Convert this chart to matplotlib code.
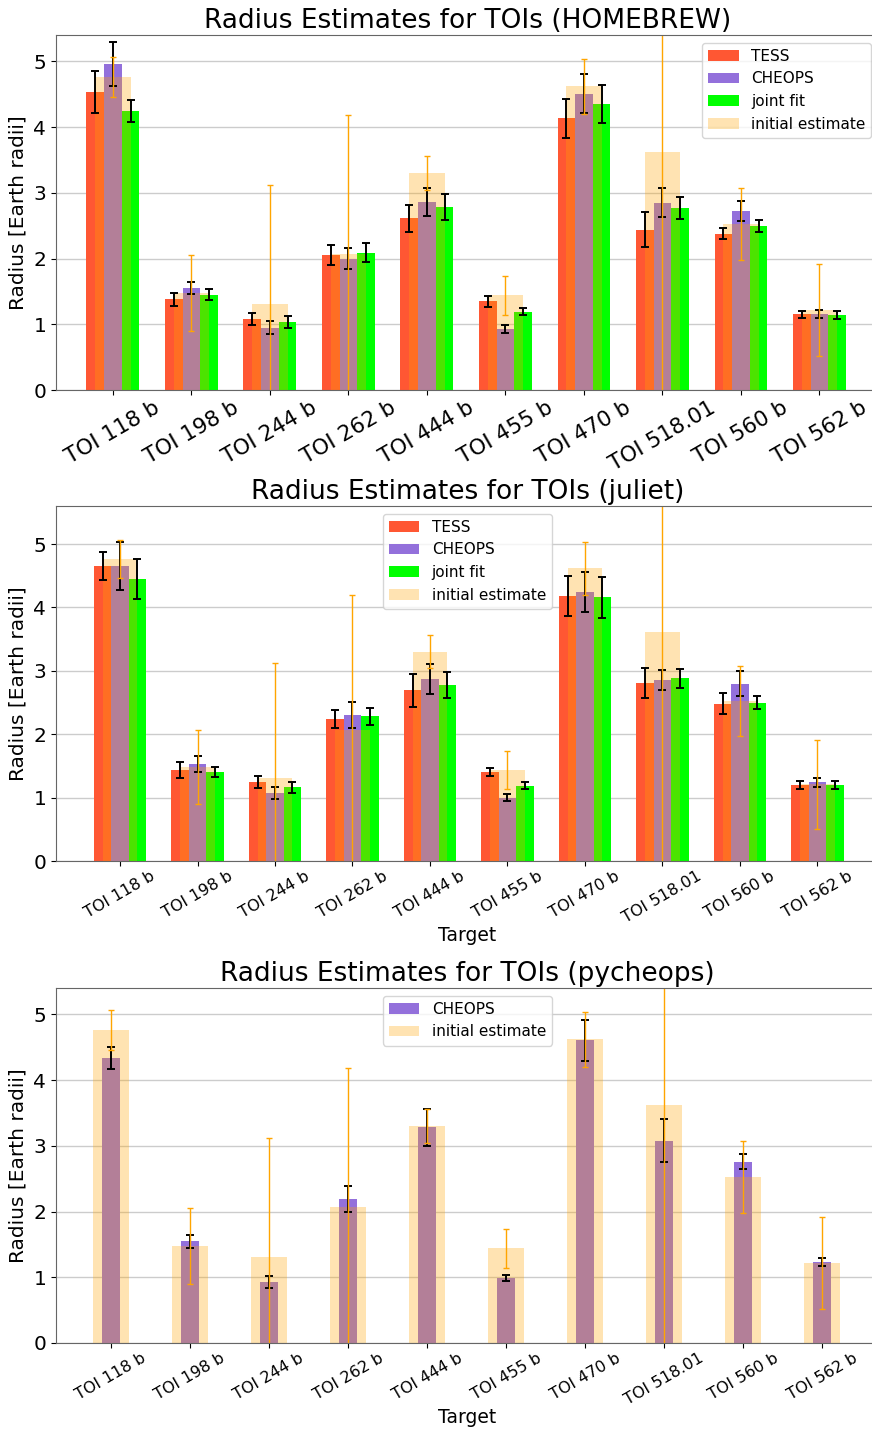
import numpy as np
import matplotlib
matplotlib.use("Agg")
import matplotlib.pyplot as plt

# targets and the initial (literature) radius estimates
targets = ['TOI 118 b', 'TOI 198 b', 'TOI 244 b', 'TOI 262 b', 'TOI 444 b',
           'TOI 455 b', 'TOI 470 b', 'TOI 518.01', 'TOI 560 b', 'TOI 562 b']
initial = [4.76, 1.48, 1.31, 2.07, 3.30, 1.44, 4.62, 3.62, 2.52, 1.21]
initial_err = [0.30, 0.58, 1.81, 2.12, 0.26, 0.30, 0.42, 3.70, 0.55, 0.70]

# HOMEBREW fits
hb_tess = [4.54, 1.38, 1.08, 2.05, 2.61, 1.35, 4.13, 2.44, 2.38, 1.15]
hb_tess_err = [0.32, 0.095, 0.085, 0.15, 0.21, 0.085, 0.30, 0.265, 0.09, 0.05]
hb_cheops = [4.96, 1.555, 0.95, 2.00, 2.86, 0.93, 4.51, 2.85, 2.72, 1.15]
hb_cheops_err = [0.33, 0.09, 0.10, 0.155, 0.22, 0.06, 0.30, 0.22, 0.15, 0.06]
hb_joint = [4.245, 1.45, 1.04, 2.09, 2.78, 1.19, 4.35, 2.77, 2.50, 1.14]
hb_joint_err = [0.165, 0.08, 0.09, 0.15, 0.20, 0.055, 0.29, 0.165, 0.09, 0.06]

# juliet fits
ju_tess = [4.66, 1.43, 1.24, 2.24, 2.69, 1.40, 4.18, 2.81, 2.48, 1.195]
ju_tess_err = [0.22, 0.125, 0.095, 0.145, 0.255, 0.065, 0.31, 0.24, 0.165, 0.06]
ju_cheops = [4.655, 1.53, 1.07, 2.305, 2.87, 1.00, 4.25, 2.86, 2.795, 1.24]
ju_cheops_err = [0.385, 0.13, 0.095, 0.205, 0.23, 0.055, 0.315, 0.16, 0.20, 0.07]
ju_joint = [4.45, 1.40, 1.16, 2.28, 2.78, 1.185, 4.16, 2.88, 2.495, 1.195]
ju_joint_err = [0.315, 0.08, 0.08, 0.13, 0.205, 0.055, 0.325, 0.155, 0.10, 0.06]

# pycheops fits (CHEOPS only)
py_cheops = [4.34, 1.55, 0.93, 2.19, 3.28, 0.99, 4.605, 3.08, 2.76, 1.23]
py_cheops_err = [0.17, 0.10, 0.09, 0.20, 0.28, 0.05, 0.31, 0.32, 0.11, 0.065]

W = 0.225
TESS_C = '#ff5733'
CHEOPS_C = 'mediumpurple'
JOINT_C = 'lime'
FIG_W, FIG_H = 872, 1431


def px_axes(fig, top, bottom, left=56, right=879):
	# right edge sits just past the figure, like the cropped original
	return fig.add_axes([left/FIG_W, 1 - bottom/FIG_H, (right-left)/FIG_W, (bottom-top)/FIG_H])


def panel(ax, name, tess=None, cheops=None, joint=None, xfont=11.5, xlabel=True, legend_loc='upper center', xlim=None, ylim=5.4):
	x = np.arange(len(targets))
	ekw = dict(capsize=3, error_kw=dict(elinewidth=1.4, capthick=1.4, ecolor='black'))
	if tess is not None:
		ax.bar(x - W, tess[0], W, yerr=tess[1], color=TESS_C, label='TESS', **ekw)
	ax.bar(x, cheops[0], W, yerr=cheops[1], color=CHEOPS_C, label='CHEOPS', **ekw)
	if joint is not None:
		ax.bar(x + W, joint[0], W, yerr=joint[1], color=JOINT_C, label='joint fit', **ekw)
	ax.bar(x, initial, 2*W, yerr=initial_err, color='orange', alpha=0.3, label='initial estimate',
		capsize=2, error_kw=dict(elinewidth=1, capthick=1, ecolor='orange'))

	ax.set_title('Radius Estimates for TOIs (%s)' % name, fontsize=19, pad=5)
	ax.set_ylabel('Radius [Earth radii]', fontsize=14.5)
	ax.set_xticks(x)
	ax.set_xticklabels(targets, rotation=30, fontsize=xfont)
	ax.tick_params(axis='y', labelsize=14.5)
	ax.tick_params(axis='x', pad=2)
	if xlabel:
		ax.set_xlabel('Target', fontsize=13.5, labelpad=0)
	ax.set_axisbelow(True)
	ax.grid(axis='y', color='#cccccc', linewidth=1)
	ax.set_ylim(0, ylim)
	ax.set_xlim(*xlim)
	for s in ax.spines.values():
		s.set_color('#666666')
	ax.legend(loc=legend_loc, fontsize=11)


fig = plt.figure(figsize=(FIG_W/100, FIG_H/100), dpi=100)

ax0 = px_axes(fig, 35, 390)
panel(ax0, 'HOMEBREW', (hb_tess, hb_tess_err), (hb_cheops, hb_cheops_err), (hb_joint, hb_joint_err),
	xfont=15.5, xlabel=False, legend_loc='upper right', xlim=(-0.726, 9.758), ylim=5.4)

ax1 = px_axes(fig, 506, 861)
panel(ax1, 'juliet', (ju_tess, ju_tess_err), (ju_cheops, ju_cheops_err), (ju_joint, ju_joint_err),
	xfont=11.5, xlim=(-0.826, 9.794), ylim=5.6)

ax2 = px_axes(fig, 988, 1343)
panel(ax2, 'pycheops', cheops=(py_cheops, py_cheops_err), xfont=11.5, xlim=(-0.696, 9.72), ylim=5.4)

fig.savefig('out.png', dpi=100)
